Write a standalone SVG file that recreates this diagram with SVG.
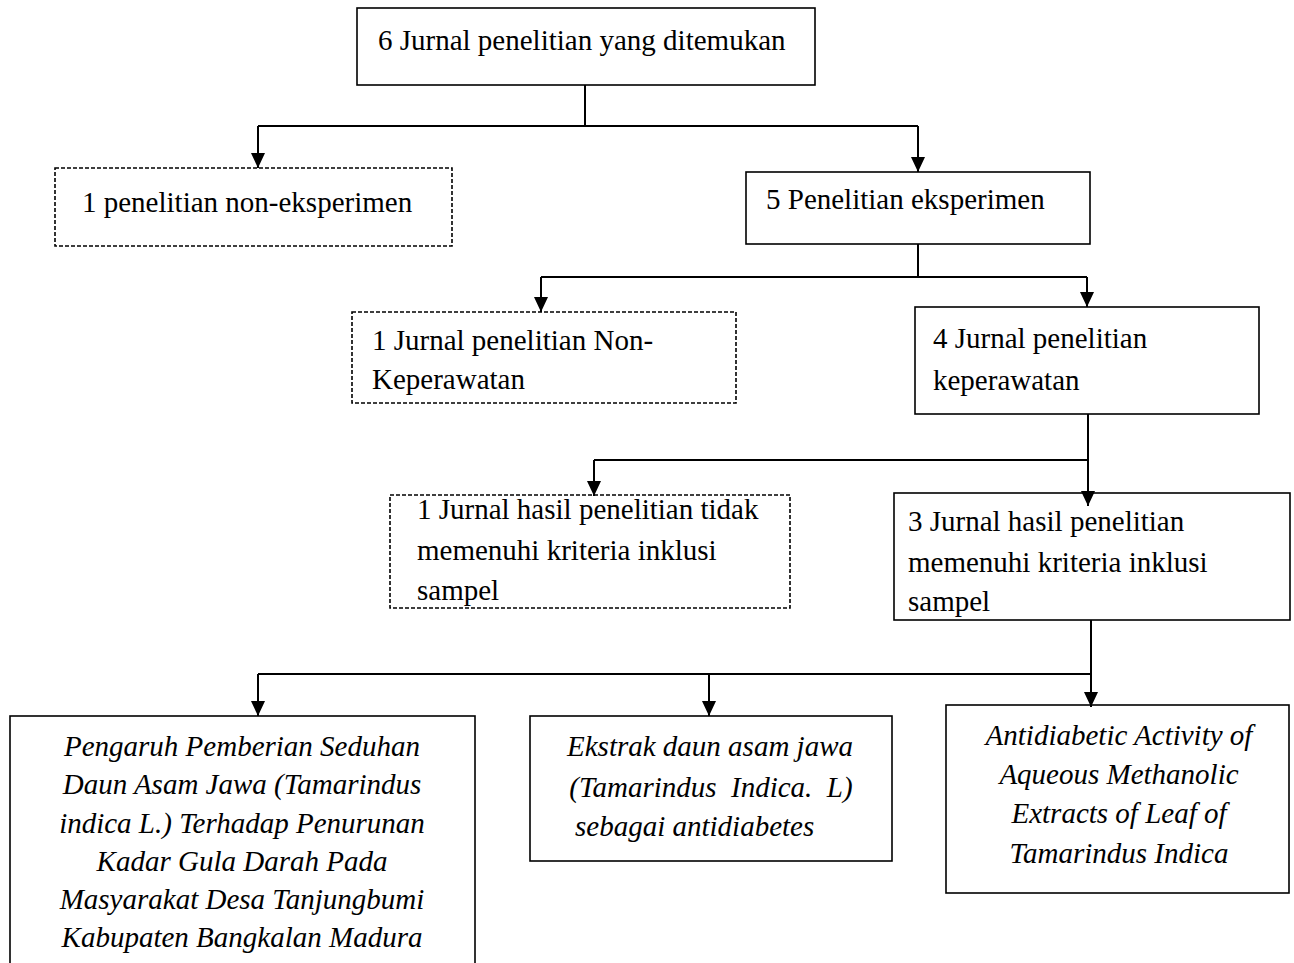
<svg xmlns="http://www.w3.org/2000/svg" width="1294" height="963" viewBox="0 0 1294 963">
<defs>
<marker id="ah" markerWidth="15" markerHeight="14" refX="15" refY="7" orient="auto" markerUnits="userSpaceOnUse" viewBox="0 0 15 14">
<path d="M0,0 L15,7 L0,14 Z" fill="#000"/>
</marker>
</defs>
<style>
.box{fill:#fff;stroke:#000;stroke-width:1.6}
.dash{fill:#fff;stroke:#000;stroke-width:1.6;stroke-dasharray:4 2}
.t{font-family:"Liberation Serif","Times New Roman",serif;font-size:29px;fill:#000}
.i{font-family:"Liberation Serif","Times New Roman",serif;font-size:29px;font-style:italic;fill:#000;white-space:pre}
.c{fill:none;stroke:#000;stroke-width:2}
</style>
<rect width="1294" height="963" fill="#fff"/>
<g id="n1">
<rect class="box" x="357" y="8" width="458" height="77"/>
<text class="t" x="378" y="50">6 Jurnal penelitian yang ditemukan</text>
</g>
<g id="n2">
<rect class="dash" x="55" y="168" width="397" height="78"/>
<text class="t" x="82" y="212">1 penelitian non-eksperimen</text>
</g>
<g id="n3">
<rect class="box" x="746" y="172" width="344" height="72"/>
<text class="t" x="766" y="209">5 Penelitian eksperimen</text>
</g>
<g id="n4">
<rect class="dash" x="352" y="312" width="384" height="91"/>
<text class="t" x="372" y="350">1 Jurnal penelitian Non-</text>
<text class="t" x="372" y="389">Keperawatan</text>
</g>
<g id="n5">
<rect class="box" x="915" y="307" width="344" height="107"/>
<text class="t" x="933" y="348">4 Jurnal penelitian</text>
<text class="t" x="933" y="390">keperawatan</text>
</g>
<g id="n6">
<rect class="dash" x="390" y="495" width="400" height="113"/>
<text class="t" x="417" y="519">1 Jurnal hasil penelitian tidak</text>
<text class="t" x="417" y="560">memenuhi kriteria inklusi</text>
<text class="t" x="417" y="600">sampel</text>
</g>
<g id="n7">
<rect class="box" x="894" y="493" width="396" height="127"/>
<text class="t" x="908" y="531">3 Jurnal hasil penelitian</text>
<text class="t" x="908" y="572">memenuhi kriteria inklusi</text>
<text class="t" x="908" y="611">sampel</text>
</g>
<g id="n8">
<rect class="box" x="10" y="716" width="465" height="260"/>
<text class="i" text-anchor="middle" x="242" y="756">Pengaruh Pemberian Seduhan</text>
<text class="i" text-anchor="middle" x="242" y="794">Daun Asam Jawa (Tamarindus</text>
<text class="i" text-anchor="middle" x="242" y="833">indica L.) Terhadap Penurunan</text>
<text class="i" text-anchor="middle" x="242" y="871">Kadar Gula Darah Pada</text>
<text class="i" text-anchor="middle" x="242" y="909">Masyarakat Desa Tanjungbumi</text>
<text class="i" text-anchor="middle" x="242" y="947">Kabupaten Bangkalan Madura</text>
</g>
<g id="n9">
<rect class="box" x="530" y="716" width="362" height="145"/>
<text class="i" text-anchor="middle" x="710" y="756">Ekstrak daun asam jawa</text>
<text class="i" text-anchor="middle" x="711" y="797">(Tamarindus  Indica.  L)</text>
<text class="i" x="575" y="836">sebagai antidiabetes</text>
</g>
<g id="n10">
<rect class="box" x="946" y="705" width="343" height="188"/>
<text class="i" text-anchor="middle" x="1119" y="745">Antidiabetic Activity of</text>
<text class="i" text-anchor="middle" x="1119" y="784">Aqueous Methanolic</text>
<text class="i" text-anchor="middle" x="1119" y="823">Extracts of Leaf of</text>
<text class="i" text-anchor="middle" x="1119" y="863">Tamarindus Indica</text>
</g>
<g id="connectors">
<path class="c" d="M585,85 V126 M258,126 H918"/>
<path class="c" d="M258,126 V168" marker-end="url(#ah)"/>
<path class="c" d="M918,126 V172" marker-end="url(#ah)"/>
<path class="c" d="M918,244 V277 M541,277 H1087"/>
<path class="c" d="M541,277 V312" marker-end="url(#ah)"/>
<path class="c" d="M1087,277 V307" marker-end="url(#ah)"/>
<path class="c" d="M1088,414 V506" marker-end="url(#ah)"/>
<path class="c" d="M1087,460 H594"/>
<path class="c" d="M594,460 V496" marker-end="url(#ah)"/>
<path class="c" d="M1091,620 V674 M258,674 H1091"/>
<path class="c" d="M258,674 V716" marker-end="url(#ah)"/>
<path class="c" d="M709,674 V716" marker-end="url(#ah)"/>
<path class="c" d="M1091,674 V707" marker-end="url(#ah)"/>
</g>
</svg>
